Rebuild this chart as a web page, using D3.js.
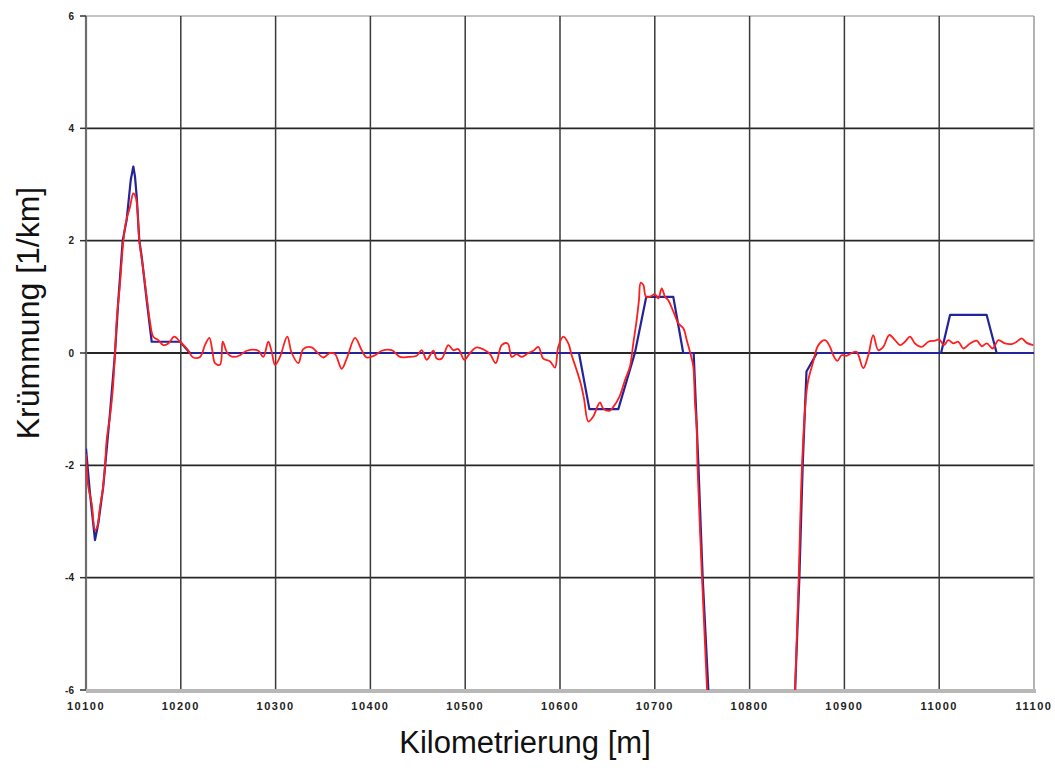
<!DOCTYPE html>
<html>
<head>
<meta charset="utf-8">
<script src="https://cdn.jsdelivr.net/npm/d3@7"></script>
<style>
  html, body { margin: 0; padding: 0; background: #ffffff; }
  svg { display: block; }
</style>
</head>
<body>
<svg id="chart" width="1055" height="771"></svg>
<script>
// Axis ticks
const xTicks = [10100, 10200, 10300, 10400, 10500, 10600, 10700, 10800, 10900, 11000, 11100];
const xTickLabels = ["10100", "10200", "10300", "10400", "10500", "10600", "10700", "10800", "10900", "11000", "11100"];
const yTicks = [-6, -4, -2, 0, 2, 4, 6];

// Design curvature (Soll) — stations [m] and curvature [1/km]
const designStation = [
  10100, 10104.2, 10109.5, 10113, 10118.2, 10125.3, 10130.6, 10134.1, 10138.7, 10142.9,
  10147.2, 10149.9, 10151.7, 10153.5, 10156.2, 10158.8, 10164, 10169.3, 10199.2, 10209.7,
  10620, 10631, 10661.5, 10679, 10691, 10719.5, 10730, 10741, 10746, 10750.5,
  10756.5, 10770, 10834, 10848, 10852.5, 10856, 10860, 10871, 11002, 11011.5,
  11050, 11060.6, 11100
];
const designCurvature = [
  -1.7, -2.5, -3.33, -3.03, -2.38, -1.07, 0, 0.94, 2.0, 2.37,
  3.08, 3.32, 3.14, 2.78, 2.01, 1.71, 0.94, 0.2, 0.2, 0,
  0, -1, -1, 0, 1, 1, 0, 0, -2, -4,
  -6, -12, -12, -6, -4, -2, -0.33, 0, 0, 0.68,
  0.68, 0, 0
];

// Measured curvature (Ist) — stations [m] and curvature [1/km]
const measuredStation = [
  10100, 10102.4, 10106, 10109.5, 10111.9, 10114.8, 10117.6, 10120, 10121.8, 10125.3,
  10128.2, 10130.6, 10132.4, 10135.9, 10139.3, 10142.2, 10146.4, 10149.9, 10152.7, 10156.2,
  10160.4, 10164, 10167.5, 10171, 10176.3, 10181.5, 10186.8, 10193.1, 10199.2, 10206.2,
  10213.2, 10220.3, 10225.5, 10230.1, 10233.2, 10236.1, 10241.4, 10244.2, 10248.4, 10251.9,
  10257.2, 10262.4, 10269.5, 10281.8, 10287, 10292.3, 10295.9, 10299.4, 10304.6, 10312.3,
  10317, 10324, 10329.2, 10338.1, 10343.4, 10350.3, 10357.4, 10362.7, 10369.7, 10375,
  10383.8, 10390.8, 10396.1, 10404.9, 10411.9, 10422.5, 10431.2, 10440, 10448.8, 10454.1,
  10459.4, 10466.4, 10469.9, 10475.2, 10482.2, 10487.4, 10492.7, 10499.1, 10505.1, 10512.1,
  10520.9, 10526.2, 10532.2, 10538.5, 10544.8, 10549.1, 10554.3, 10559.6, 10566.6, 10571.9,
  10577.1, 10582.4, 10589.5, 10594.7, 10598.2, 10603.5, 10608.8, 10612.3, 10616.9, 10621.8,
  10625.3, 10629.9, 10635.1, 10639.3, 10642.2, 10645.7, 10652, 10656.2, 10662.6, 10668.6,
  10673.8, 10677.3, 10680.9, 10683.3, 10685.1, 10687.9, 10690.7, 10694.9, 10700.2, 10703.7,
  10707.3, 10710.8, 10714.2, 10719.5, 10724.8, 10730.1, 10733.7, 10737.1, 10740.6, 10742.4,
  10744.2, 10745, 10749.8, 10755.1, 10768, 10836, 10848, 10851.8, 10855.3, 10859.5,
  10861.9, 10867.2, 10872.5, 10879.5, 10884.8, 10888.3, 10892.5, 10897.1, 10902.4, 10907.7,
  10912.9, 10919.9, 10925.2, 10930.4, 10935.7, 10941, 10947.3, 10953.4, 10958.6, 10963.9,
  10969.2, 10974.5, 10981.5, 10988.5, 10995.6, 11000.1, 11005.1, 11009.6, 11014.9, 11020.2,
  11025.5, 11032.5, 11039.6, 11044.9, 11050.2, 11056.5, 11062.4, 11069.4, 11076.5, 11081.8,
  11087, 11092.3, 11099.3
];
const measuredCurvature = [
  -1.8, -2.38, -2.68, -3.15, -3.09, -2.74, -2.44, -2.02, -1.55, -1.13,
  -0.66, 0, 0.59, 1.24, 1.98, 2.34, 2.6, 2.84, 2.76, 2.01,
  1.48, 1.0, 0.56, 0.29, 0.23, 0.14, 0.17, 0.29, 0.2, 0.08,
  -0.08, -0.07, 0.14, 0.27, 0.05, -0.18, -0.21, 0.2, 0.02, -0.05,
  -0.07, -0.04, 0.04, 0.04, -0.07, 0.2, 0.02, -0.21, -0.07, 0.29,
  0, -0.18, 0.07, 0.1, 0.02, -0.08, 0, -0.02, -0.28, -0.1,
  0.27, 0.05, -0.08, -0.04, 0.04, 0.05, -0.07, -0.07, -0.05, 0.05,
  -0.12, 0.04, -0.1, -0.1, 0.14, 0.05, 0.07, -0.12, 0, 0.1,
  0.05, -0.02, -0.18, 0.14, 0.17, -0.07, -0.02, -0.07, 0, 0.04,
  0.11, -0.1, -0.15, -0.26, 0.11, 0.29, 0.17, -0.04, -0.27, -0.54,
  -0.81, -1.22, -1.13, -0.96, -0.88, -0.99, -1.03, -0.96, -0.78, -0.48,
  -0.24, 0.17, 0.59, 0.94, 1.25, 1.21, 1.0, 1.0, 1.05, 0.97,
  1.15, 1.0, 0.94, 0.74, 0.53, 0.44, 0.23, 0.02, -0.24, -0.9,
  -1.31, -2, -4, -6, -12, -12, -6, -4, -2, -0.78,
  -0.48, -0.15, 0.14, 0.23, 0.11, -0.04, -0.14, -0.04, -0.05, 0,
  0.02, -0.27, -0.04, 0.32, 0.05, 0.11, 0.32, 0.23, 0.14, 0.2,
  0.29, 0.17, 0.11, 0.2, 0.22, 0.24, 0.14, 0.23, 0.17, 0.2,
  0.08, 0.17, 0.22, 0.12, 0.17, 0.08, 0.23, 0.17, 0.16, 0.2,
  0.26, 0.18, 0.14
];

const svg = d3.select("#chart");
const plot = { left: 86, right: 1034, top: 16, bottom: 690 };

const x = d3.scaleLinear().domain([10100, 11100]).range([plot.left, plot.right]);
const y = d3.scaleLinear().domain([-6, 6]).range([plot.bottom, plot.top]);

svg.append("defs").append("clipPath").attr("id", "plotClip")
  .append("rect")
  .attr("x", plot.left).attr("y", plot.top)
  .attr("width", plot.right - plot.left).attr("height", plot.bottom - plot.top);

// Horizontal gridlines
svg.append("g")
  .selectAll("line")
  .data(yTicks.filter(v => v > -6))
  .join("line")
  .attr("x1", plot.left).attr("x2", plot.right)
  .attr("y1", d => y(d)).attr("y2", d => y(d))
  .attr("stroke", d => d === 6 ? "#8a8a8a" : "#262626")
  .attr("stroke-width", d => d === 6 ? 1.2 : 1.8);

// Vertical gridlines
svg.append("g")
  .selectAll("line")
  .data(xTicks)
  .join("line")
  .attr("x1", d => x(d)).attr("x2", d => x(d))
  .attr("y1", plot.top).attr("y2", plot.bottom)
  .attr("stroke", (d, i) => i === 0 ? "#6e6e6e" : (i === xTicks.length - 1 ? "#9a9a9a" : "#3a3a3a"))
  .attr("stroke-width", (d, i) => i === 0 ? 2.2 : 1.5);

// Bottom axis line
svg.append("line")
  .attr("x1", plot.left).attr("x2", plot.right + 2)
  .attr("y1", y(-6) + 1).attr("y2", y(-6) + 1)
  .attr("stroke", "#b8b8b8").attr("stroke-width", 4);

// Y ticks and labels
const yAxisG = svg.append("g");
yAxisG.selectAll("line")
  .data(yTicks)
  .join("line")
  .attr("x1", plot.left - 6).attr("x2", plot.left)
  .attr("y1", d => y(d)).attr("y2", d => y(d))
  .attr("stroke", "#333").attr("stroke-width", 1.5);
yAxisG.selectAll("text")
  .data(yTicks)
  .join("text")
  .attr("x", plot.left - 12)
  .attr("y", d => y(d))
  .attr("dy", "0.35em")
  .attr("text-anchor", "end")
  .attr("font-family", "'Liberation Sans', Arial, sans-serif")
  .attr("font-size", 10)
  .attr("font-weight", "bold")
  .attr("fill", "#222")
  .text(d => d);

// X tick labels
svg.append("g")
  .selectAll("text")
  .data(xTicks)
  .join("text")
  .attr("x", d => x(d))
  .attr("y", plot.bottom + 20)
  .attr("text-anchor", "middle")
  .attr("font-family", "'Liberation Sans Narrow', 'Liberation Sans', Arial, sans-serif")
  .attr("font-size", 11)
  .attr("font-weight", "bold")
  .attr("letter-spacing", 1.5)
  .attr("fill", "#222")
  .text((d, i) => xTickLabels[i]);

// Series lines
const designData = designStation.map((s, i) => [s, designCurvature[i]]);
const measuredData = measuredStation.map((s, i) => [s, measuredCurvature[i]]);

const lines = svg.append("g").attr("clip-path", "url(#plotClip)");

lines.append("path")
  .datum(designData)
  .attr("fill", "none")
  .attr("stroke", "#23239a")
  .attr("stroke-width", 2.2)
  .attr("stroke-linejoin", "round")
  .attr("d", d3.line().x(d => x(d[0])).y(d => y(d[1])));

lines.append("path")
  .datum(measuredData)
  .attr("fill", "none")
  .attr("stroke", "#ff1e1e")
  .attr("stroke-width", 1.8)
  .attr("stroke-linejoin", "round")
  .attr("d", d3.line().curve(d3.curveCatmullRom.alpha(0.5)).x(d => x(d[0])).y(d => y(d[1])));

// Axis titles
svg.append("text")
  .attr("transform", "translate(39, 313) rotate(-90)")
  .attr("text-anchor", "middle")
  .attr("font-family", "'Liberation Sans', Arial, sans-serif")
  .attr("font-size", 32)
  .attr("fill", "#111")
  .text("Krümmung [1/km]");

svg.append("text")
  .attr("x", 525)
  .attr("y", 753)
  .attr("text-anchor", "middle")
  .attr("font-family", "'Liberation Sans', Arial, sans-serif")
  .attr("font-size", 31)
  .attr("fill", "#111")
  .text("Kilometrierung [m]");
</script>
</body>
</html>
